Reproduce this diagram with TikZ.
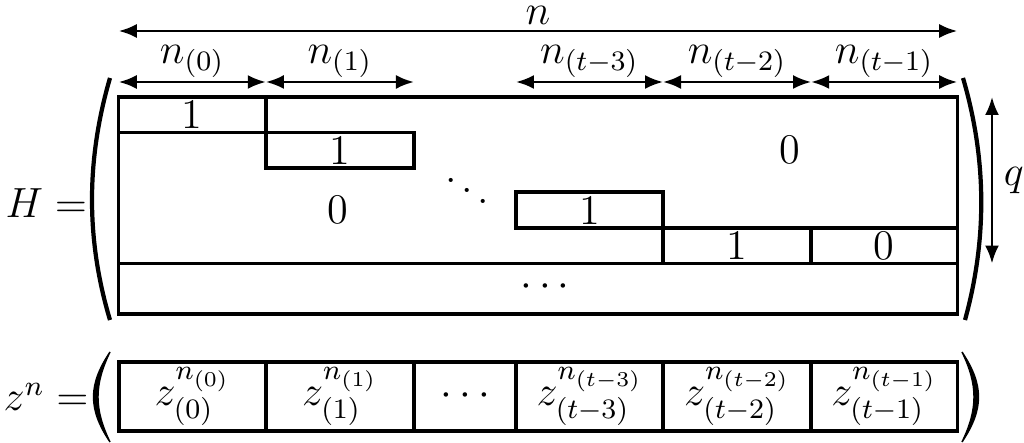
\documentclass[tikz,border=0pt,12pt]{standalone}
\usetikzlibrary{arrows.meta, positioning}
\tikzset{
  outline/.style={rectangle, draw, line width=0.95pt, inner sep=0pt, outer sep=0pt},
  blk/.style={outline, minimum width=1.47cm, minimum height=0.355cm},
  cell/.style={outline, line width=1.1pt, minimum width=1.47cm, minimum height=0.69cm},
  dimarrow/.style={{Latex[length=1.8mm,width=1.4mm]}-{Latex[length=1.8mm,width=1.4mm]}, line width=0.75pt},
  paren/.style={line width=1.2pt},
  bigparen/.style={line width=0.4pt, fill=black},
  lbl/.style={inner sep=1pt},
}

\begin{document}
\begin{tikzpicture}[x=0.01cm, y=-0.01cm]
\useasboundingbox (0,0) rectangle (1024,443);
\node[outline, minimum width=8.38cm, minimum height=2.17cm] (Hmat) at (538,205.5) {};
\node[blk, anchor=north west] (b0) at (Hmat.north west) {1};
\node[blk, below right=0pt and 0pt of b0, minimum width=1.48cm] (b1) {1};
\node[blk, minimum height=0.36cm] (b3) at (589.5,210) {1};
\node[blk, below right=0pt and 0pt of b3, minimum width=1.48cm] (b4) {1};
\node[blk, right=0pt of b4, minimum width=1.46cm] (b5) {0};
\draw[line width=0.95pt] (Hmat.west |- b4.south) -- (Hmat.east |- b4.south);
\node (zeroL) at (338,210) {0};
\node (zeroR) at (790,150) {0};
\node (dd) at (467,180) {$\ddots$};
\node (cd) at (545,287) {$\cdots$};

\node[cell, anchor=north west] (v0) at (119,362) {$z^{n_{(0)}}_{(0)}$};
\node[cell, right=0pt of v0, minimum width=1.48cm] (v1) {$z^{n_{(1)}}_{(1)}$};
\node[cell, right=0pt of v1, minimum width=1.02cm] (v2) {$\cdots$};
\node[cell, right=0pt of v2] (v3) {$z^{n_{(t-3)}}_{(t-3)}$};
\node[cell, right=0pt of v3, minimum width=1.48cm] (v4) {$z^{n_{(t-2)}}_{(t-2)}$};
\node[cell, right=0pt of v4, minimum width=1.46cm] (v5) {$z^{n_{(t-1)}}_{(t-1)}$};

\node[anchor=base west, inner sep=0pt] (Hlbl) at (5,218) {$H=$};
\node[anchor=base west, inner sep=0pt] (zlbl) at (3,411) {$z^n=$};

\coordinate (ntop) at (0,31);
\coordinate (tick) at (0,82);
\coordinate (qx) at (992,0);
\draw[dimarrow] (Hmat.west |- ntop) -- node[inner sep=0pt, above=1.5pt]{$n$} (Hmat.east |- ntop);
\draw[dimarrow] (b0.north west |- tick) -- node[lbl, above]{$n_{(0)}$} (b0.north east |- tick);
\draw[dimarrow] (b1.north west |- tick) -- node[lbl, above]{$n_{(1)}$} (b1.north east |- tick);
\draw[dimarrow] (b3.north west |- tick) -- node[lbl, above]{$n_{(t-3)}$} (b3.north east |- tick);
\draw[dimarrow] (b4.north west |- tick) -- node[lbl, above]{$n_{(t-2)}$} (b4.north east |- tick);
\draw[dimarrow] (b5.north west |- tick) -- node[lbl, above]{$n_{(t-1)}$} (b5.north east |- tick);
\draw[dimarrow] (qx |- Hmat.north) -- node[right, inner sep=3pt]{$q$} (qx |- b4.south);

\draw[paren] (110,78) .. controls (86,160) and (86,240) .. (110,320);
\draw[paren] (963,78) .. controls (987,160) and (987,240) .. (965,320);
\draw[bigparen] (110,352) .. controls (88,385) and (88,409) .. (110,442) .. controls (94,409) and (94,385) .. cycle;
\draw[bigparen] (962,352) .. controls (984,385) and (984,409) .. (962,442) .. controls (978,409) and (978,385) .. cycle;
\end{tikzpicture}
\end{document}
